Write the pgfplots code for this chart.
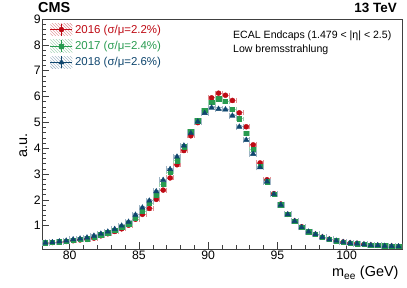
\documentclass[border=0pt]{standalone}
\usepackage{fontspec}
\setmainfont{Liberation Sans}
\usepackage{pgfplots}
\usepackage{pgfplotstable}
\pgfplotsset{compat=1.18}
\usetikzlibrary{patterns}
\definecolor{cmsred}{RGB}{190,10,20}
\definecolor{cmsgreen}{RGB}{40,155,80}
\definecolor{cmsblue}{RGB}{15,70,110}

% columns: m_ee bin centre, 2016, 2017, 2018
\pgfplotstableread{
x      a     b     c
78.25  0.33  0.34  0.34
78.75  0.35  0.36  0.36
79.25  0.37  0.38  0.39
79.75  0.39  0.41  0.42
80.25  0.42  0.45  0.47
80.75  0.45  0.48  0.50
81.25  0.47  0.50  0.54
81.75  0.52  0.56  0.61
82.25  0.61  0.65  0.69
82.75  0.69  0.73  0.77
83.25  0.78  0.82  0.87
83.75  0.88  0.94  1.00
84.25  1.02  1.08  1.15
84.75  1.25  1.31  1.42
85.25  1.44  1.57  1.70
85.75  1.67  1.87  1.97
86.25  2.02  2.18  2.33
86.75  2.38  2.60  2.77
87.25  2.85  3.07  3.19
87.75  3.36  3.52  3.67
88.25  3.91  4.06  4.10
88.75  4.48  4.67  4.58
89.25  4.99  5.07  5.03
89.75  5.45  5.48  5.36
90.25  5.95  5.77  5.57
90.75  6.13  5.91  5.52
91.25  6.05  5.81  5.50
91.75  5.85  5.52  5.26
92.25  5.37  5.14  4.83
92.75  4.83  4.57  4.32
93.25  4.13  3.96  3.78
93.75  3.43  3.31  3.26
94.25  2.78  2.71  2.71
94.75  2.24  2.22  2.22
95.25  1.84  1.81  1.81
95.75  1.44  1.44  1.44
96.25  1.18  1.18  1.18
96.75  0.96  0.94  0.94
97.25  0.77  0.77  0.77
97.75  0.67  0.67  0.67
98.25  0.56  0.56  0.56
98.75  0.48  0.47  0.47
99.25  0.42  0.42  0.42
99.75  0.37  0.37  0.37
100.25 0.33  0.33  0.33
100.75 0.32  0.31  0.31
101.25 0.28  0.28  0.28
101.75 0.25  0.25  0.25
102.25 0.24  0.24  0.24
102.75 0.22  0.22  0.22
103.25 0.21  0.21  0.21
103.75 0.20  0.20  0.20
}\datatable

\begin{document}
\begin{tikzpicture}
\useasboundingbox (0bp,0bp) rectangle (407bp,288bp);
\begin{axis}[
  at={(42bp,39bp)}, anchor=south west,
  width=360bp, height=230bp, scale only axis,
  xmin=78, xmax=104, ymin=0.1, ymax=9,
  xtick={80,85,90,95,100}, ytick={1,2,3,4,5,6,7,8,9},
  minor x tick num=4, minor y tick num=4,
  tick align=inside, xtick pos=bottom, ytick pos=left,
  major tick length=7bp, minor tick length=3.5bp,
  tick style={black!75, line width=0.5bp},
  axis line style={black!75, line width=0.8bp},
  /pgf/number format/assume math mode=true,
  ticklabel style={font=\fontsize{12.3}{14}\selectfont},
  yticklabel style={inner sep=1.2bp},
  xticklabel style={inner sep=2bp},
  xlabel={m\textsubscript{ee} (GeV)},
  ylabel={a.u.},
  every axis x label/.style={at={(rel axis cs:1,0)}, anchor=north east, yshift=-14bp,
    font=\fontsize{14.5}{16}\selectfont},
  every axis y label/.style={at={(rel axis cs:-0.052,0.45)}, anchor=center, rotate=90,
    font=\fontsize{14.5}{16}\selectfont},
  error bars/x dir=both, error bars/x fixed=0.25,
  error bars/y dir=both, error bars/y fixed=0.05,
  legend style={at={(rel axis cs:0.019,0.99)}, anchor=north west, draw=none, fill=none,
    font=\fontsize{11.5}{13}\selectfont, row sep=2.2bp, inner sep=1bp,
    nodes={inner sep=2.2bp}},
  legend cell align=left,
]
\addplot[only marks, mark=*, mark size=2.5bp, color=cmsred,
  error bars/error bar style={cmsred!45, line width=0.8bp},
  legend image code/.code={
    \path[draw=none, pattern=north west lines, pattern color=cmsred!50] (0bp,-6bp) rectangle (22bp,6bp);
    \draw[cmsred, line width=0.8bp] (0bp,0bp) -- (22bp,0bp) (11bp,-6bp) -- (11bp,6bp);
    \draw plot coordinates {(11bp,0bp)};}]
  table[x=x, y=a] {\datatable};
\addlegendentry{\textcolor{cmsred}{2016 (σ/μ=2.2\%)}}
\addplot[only marks, mark=square*, mark size=2.2bp, color=cmsgreen,
  error bars/error bar style={cmsgreen!45, line width=0.8bp},
  legend image code/.code={
    \path[draw=none, pattern=north west lines, pattern color=cmsgreen!50] (0bp,-6bp) rectangle (22bp,6bp);
    \draw[cmsgreen, line width=0.8bp] (0bp,0bp) -- (22bp,0bp) (11bp,-6bp) -- (11bp,6bp);
    \draw plot coordinates {(11bp,0bp)};}]
  table[x=x, y=b] {\datatable};
\addlegendentry{\textcolor{cmsgreen}{2017 (σ/μ=2.4\%)}}
\addplot[only marks, mark=triangle*, mark size=3bp, color=cmsblue,
  error bars/error bar style={cmsblue!40, line width=0.8bp},
  legend image code/.code={
    \path[draw=none, pattern=north west lines, pattern color=cmsblue!45] (0bp,-6bp) rectangle (22bp,6bp);
    \draw[cmsblue, line width=0.8bp] (0bp,0bp) -- (22bp,0bp) (11bp,-6bp) -- (11bp,6bp);
    \draw plot coordinates {(11bp,0bp)};}]
  table[x=x, y=c] {\datatable};
\addlegendentry{\textcolor{cmsblue}{2018 (σ/μ=2.6\%)}}
\end{axis}
\node[anchor=base west, inner sep=0pt, font=\fontsize{14.5}{16}\selectfont\bfseries] at (38bp,275bp) {CMS};
\node[anchor=base east, inner sep=0pt, font=\fontsize{13.5}{15}\selectfont\bfseries] at (397bp,275bp) {13 TeV};
\node[anchor=west, inner sep=0pt, font=\fontsize{10.6}{12}\selectfont] at (233bp,252bp) {ECAL Endcaps (1.479 < |η| < 2.5)};
\node[anchor=west, inner sep=0pt, font=\fontsize{10.6}{12}\selectfont] at (233bp,238bp) {Low bremsstrahlung};
\end{tikzpicture}
\end{document}
